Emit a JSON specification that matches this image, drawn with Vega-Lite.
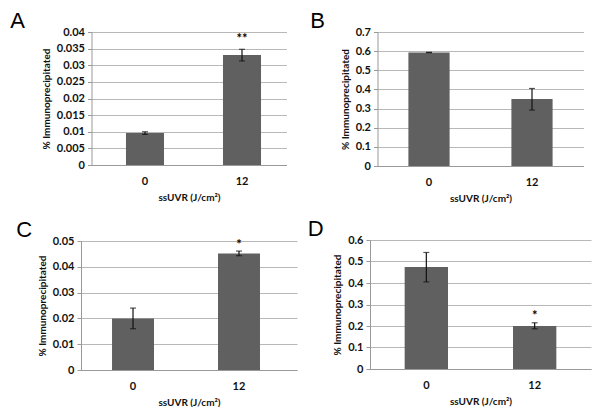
{
  "$schema": "https://vega.github.io/schema/vega-lite/v6.json",
  "padding": {"left": 10, "top": 10, "right": 5, "bottom": 0},
  "background": "white",
  "config": {
    "view": {"stroke": null},
    "font": "Lato",
    "axis": {
      "labelFont": "Lato", "labelFontWeight": "bold", "labelFontSize": 11, "labelColor": "#111",
      "titleFont": "Lato", "titleFontWeight": "bold", "titleFontSize": 10, "titleColor": "#111",
      "domainColor": "#999", "tickColor": "#999", "gridColor": "#b8b8b8", "labelOverlap": false, "labelFlush": false
    },
    "axisY": {"tickSize": 4, "labelPadding": 3, "titlePadding": 5, "grid": true, "domain": true},
    "axisX": {"ticks": false, "labelAngle": 0, "labelPadding": 10, "titlePadding": 6, "grid": false},
    "title": {"font": "Liberation Sans", "fontSize": 22, "fontWeight": "normal", "anchor": "start", "frame": "bounds", "color": "#000", "offset": -7}
  },
  "datasets": {
    "d": [
      {"panel": "A", "dose": "0", "value": 0.0096, "lo": 0.0092, "hi": 0.0100, "star": ""},
      {"panel": "A", "dose": "12", "value": 0.0331, "lo": 0.0313, "hi": 0.0348, "star": "**"},
      {"panel": "B", "dose": "0", "value": 0.593, "lo": 0.592, "hi": 0.594, "star": ""},
      {"panel": "B", "dose": "12", "value": 0.35, "lo": 0.292, "hi": 0.405, "star": ""},
      {"panel": "C", "dose": "0", "value": 0.0200, "lo": 0.0160, "hi": 0.0240, "star": ""},
      {"panel": "C", "dose": "12", "value": 0.0452, "lo": 0.0443, "hi": 0.0461, "star": "*"},
      {"panel": "D", "dose": "0", "value": 0.474, "lo": 0.405, "hi": 0.542, "star": ""},
      {"panel": "D", "dose": "12", "value": 0.200, "lo": 0.187, "hi": 0.215, "star": "*"}
    ]
  },
  "spacing": 10,
  "hconcat": [
    {
      "bounds": "flush",
      "center": true,
      "spacing": 76,
      "vconcat": [
        {
          "title": {"text": "A", "dx": -31},
          "width": 195, "height": 133,
          "data": {"name": "d"},
          "transform": [{"filter": "datum.panel === 'A'"}],
          "encoding": {"x": {"field": "dose", "type": "nominal", "sort": ["0", "12"], "scale": {"paddingInner": 0.608, "paddingOuter": 0.309, "align": 0.575}, "title": "ssUVR (J/cm²)"}},
          "layer": [
            {"mark": {"type": "bar", "color": "#606060"}, "encoding": {"y": {"field": "value", "type": "quantitative", "scale": {"domain": [0, 0.04]}, "axis": {"values": [0, 0.005, 0.01, 0.015, 0.02, 0.025, 0.03, 0.035, 0.04], "format": "~g"}, "title": "% Immunoprecipitated"}}},
            {"mark": {"type": "rule", "color": "#111", "strokeWidth": 1.2}, "encoding": {"y": {"field": "lo", "type": "quantitative", "scale": {"domain": [0, 0.04]}, "axis": {"values": [0, 0.005, 0.01, 0.015, 0.02, 0.025, 0.03, 0.035, 0.04], "format": "~g"}, "title": "% Immunoprecipitated"}, "y2": {"field": "hi"}}},
            {"mark": {"type": "tick", "color": "#111", "size": 6, "thickness": 1.2, "orient": "horizontal"}, "encoding": {"y": {"field": "lo", "type": "quantitative", "scale": {"domain": [0, 0.04]}, "axis": {"values": [0, 0.005, 0.01, 0.015, 0.02, 0.025, 0.03, 0.035, 0.04], "format": "~g"}, "title": "% Immunoprecipitated"}}},
            {"mark": {"type": "tick", "color": "#111", "size": 6, "thickness": 1.2, "orient": "horizontal"}, "encoding": {"y": {"field": "hi", "type": "quantitative", "scale": {"domain": [0, 0.04]}, "axis": {"values": [0, 0.005, 0.01, 0.015, 0.02, 0.025, 0.03, 0.035, 0.04], "format": "~g"}, "title": "% Immunoprecipitated"}}},
            {"mark": {"type": "text", "font": "Lato", "fontWeight": "bold", "fontSize": 13, "baseline": "bottom", "dy": -3}, "encoding": {"y": {"field": "hi", "type": "quantitative", "scale": {"domain": [0, 0.04]}, "axis": {"values": [0, 0.005, 0.01, 0.015, 0.02, 0.025, 0.03, 0.035, 0.04], "format": "~g"}, "title": "% Immunoprecipitated"}, "text": {"field": "star"}}}
          ]
        },
        {
          "title": {"text": "C", "dx": -21},
          "width": 216, "height": 129,
          "data": {"name": "d"},
          "transform": [{"filter": "datum.panel === 'C'"}],
          "encoding": {"x": {"field": "dose", "type": "nominal", "sort": ["0", "12"], "scale": {"paddingInner": 0.604, "paddingOuter": 0.321, "align": 0.456}, "title": "ssUVR (J/cm²)"}},
          "layer": [
            {"mark": {"type": "bar", "color": "#606060"}, "encoding": {"y": {"field": "value", "type": "quantitative", "scale": {"domain": [0, 0.05]}, "axis": {"values": [0, 0.01, 0.02, 0.03, 0.04, 0.05], "format": "~g"}, "title": "% Immunoprecipitated"}}},
            {"mark": {"type": "rule", "color": "#111", "strokeWidth": 1.2}, "encoding": {"y": {"field": "lo", "type": "quantitative", "scale": {"domain": [0, 0.05]}, "axis": {"values": [0, 0.01, 0.02, 0.03, 0.04, 0.05], "format": "~g"}, "title": "% Immunoprecipitated"}, "y2": {"field": "hi"}}},
            {"mark": {"type": "tick", "color": "#111", "size": 6, "thickness": 1.2, "orient": "horizontal"}, "encoding": {"y": {"field": "lo", "type": "quantitative", "scale": {"domain": [0, 0.05]}, "axis": {"values": [0, 0.01, 0.02, 0.03, 0.04, 0.05], "format": "~g"}, "title": "% Immunoprecipitated"}}},
            {"mark": {"type": "tick", "color": "#111", "size": 6, "thickness": 1.2, "orient": "horizontal"}, "encoding": {"y": {"field": "hi", "type": "quantitative", "scale": {"domain": [0, 0.05]}, "axis": {"values": [0, 0.01, 0.02, 0.03, 0.04, 0.05], "format": "~g"}, "title": "% Immunoprecipitated"}}},
            {"mark": {"type": "text", "font": "Lato", "fontWeight": "bold", "fontSize": 13, "baseline": "bottom", "dy": 1}, "encoding": {"y": {"field": "hi", "type": "quantitative", "scale": {"domain": [0, 0.05]}, "axis": {"values": [0, 0.01, 0.02, 0.03, 0.04, 0.05], "format": "~g"}, "title": "% Immunoprecipitated"}, "text": {"field": "star"}}}
          ]
        }
      ]
    },
    {
      "bounds": "flush",
      "center": true,
      "spacing": 74,
      "vconcat": [
        {
          "title": {"text": "B", "dx": -30},
          "width": 206, "height": 134,
          "data": {"name": "d"},
          "transform": [{"filter": "datum.panel === 'B'"}],
          "encoding": {"x": {"field": "dose", "type": "nominal", "sort": ["0", "12"], "scale": {"paddingInner": 0.6, "paddingOuter": 0.3}, "title": "ssUVR (J/cm²)"}},
          "layer": [
            {"mark": {"type": "bar", "color": "#606060"}, "encoding": {"y": {"field": "value", "type": "quantitative", "scale": {"domain": [0, 0.7]}, "axis": {"values": [0, 0.1, 0.2, 0.3, 0.4, 0.5, 0.6, 0.7], "format": "~g"}, "title": "% Immunoprecipitated"}}},
            {"mark": {"type": "rule", "color": "#111", "strokeWidth": 1.2}, "encoding": {"y": {"field": "lo", "type": "quantitative", "scale": {"domain": [0, 0.7]}, "axis": {"values": [0, 0.1, 0.2, 0.3, 0.4, 0.5, 0.6, 0.7], "format": "~g"}, "title": "% Immunoprecipitated"}, "y2": {"field": "hi"}}},
            {"mark": {"type": "tick", "color": "#111", "size": 6, "thickness": 1.2, "orient": "horizontal"}, "encoding": {"y": {"field": "lo", "type": "quantitative", "scale": {"domain": [0, 0.7]}, "axis": {"values": [0, 0.1, 0.2, 0.3, 0.4, 0.5, 0.6, 0.7], "format": "~g"}, "title": "% Immunoprecipitated"}}},
            {"mark": {"type": "tick", "color": "#111", "size": 6, "thickness": 1.2, "orient": "horizontal"}, "encoding": {"y": {"field": "hi", "type": "quantitative", "scale": {"domain": [0, 0.7]}, "axis": {"values": [0, 0.1, 0.2, 0.3, 0.4, 0.5, 0.6, 0.7], "format": "~g"}, "title": "% Immunoprecipitated"}}}
          ]
        },
        {
          "title": {"text": "D", "dx": -25},
          "width": 221, "height": 129,
          "data": {"name": "d"},
          "transform": [{"filter": "datum.panel === 'D'"}],
          "encoding": {"x": {"field": "dose", "type": "nominal", "sort": ["0", "12"], "scale": {"paddingInner": 0.6, "paddingOuter": 0.32}, "title": "ssUVR (J/cm²)"}},
          "layer": [
            {"mark": {"type": "bar", "color": "#606060"}, "encoding": {"y": {"field": "value", "type": "quantitative", "scale": {"domain": [0, 0.6]}, "axis": {"values": [0, 0.1, 0.2, 0.3, 0.4, 0.5, 0.6], "format": "~g"}, "title": "% Immunoprecipitated"}}},
            {"mark": {"type": "rule", "color": "#111", "strokeWidth": 1.2}, "encoding": {"y": {"field": "lo", "type": "quantitative", "scale": {"domain": [0, 0.6]}, "axis": {"values": [0, 0.1, 0.2, 0.3, 0.4, 0.5, 0.6], "format": "~g"}, "title": "% Immunoprecipitated"}, "y2": {"field": "hi"}}},
            {"mark": {"type": "tick", "color": "#111", "size": 6, "thickness": 1.2, "orient": "horizontal"}, "encoding": {"y": {"field": "lo", "type": "quantitative", "scale": {"domain": [0, 0.6]}, "axis": {"values": [0, 0.1, 0.2, 0.3, 0.4, 0.5, 0.6], "format": "~g"}, "title": "% Immunoprecipitated"}}},
            {"mark": {"type": "tick", "color": "#111", "size": 6, "thickness": 1.2, "orient": "horizontal"}, "encoding": {"y": {"field": "hi", "type": "quantitative", "scale": {"domain": [0, 0.6]}, "axis": {"values": [0, 0.1, 0.2, 0.3, 0.4, 0.5, 0.6], "format": "~g"}, "title": "% Immunoprecipitated"}}},
            {"mark": {"type": "text", "font": "Lato", "fontWeight": "bold", "fontSize": 13, "baseline": "bottom", "dy": 0}, "encoding": {"y": {"field": "hi", "type": "quantitative", "scale": {"domain": [0, 0.6]}, "axis": {"values": [0, 0.1, 0.2, 0.3, 0.4, 0.5, 0.6], "format": "~g"}, "title": "% Immunoprecipitated"}, "text": {"field": "star"}}}
          ]
        }
      ]
    }
  ]
}
